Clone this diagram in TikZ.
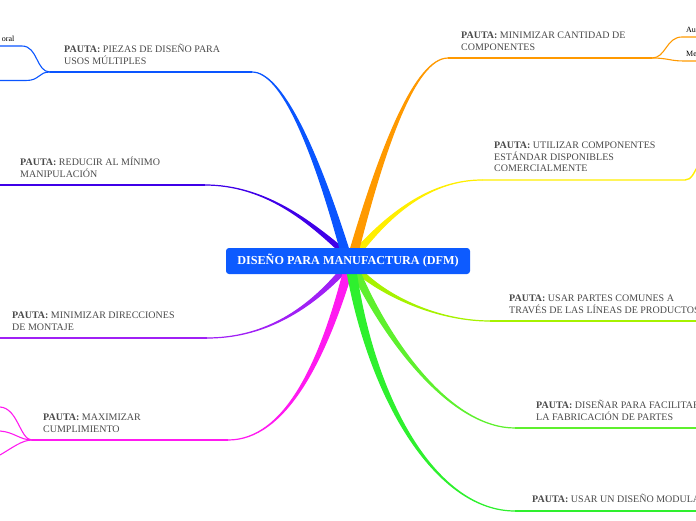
\documentclass[tikz,border=0pt]{standalone}
\usepackage{fontspec}
\setmainfont{Liberation Serif}
\usetikzlibrary{calc,backgrounds}
\definecolor{cBlue}{HTML}{0A55FF}
\definecolor{cIndigo}{HTML}{3F00E8}
\definecolor{cViolet}{HTML}{A020F5}
\definecolor{cMagenta}{HTML}{FF1AF0}
\definecolor{cOrange}{HTML}{FF9900}
\definecolor{cYellow}{HTML}{FFEE00}
\definecolor{cLime}{HTML}{A6F200}
\definecolor{cGreen}{HTML}{5EF02E}
\definecolor{cBright}{HTML}{2EF02E}
\definecolor{cNode}{HTML}{0D5BFF}
\definecolor{cText}{HTML}{4A4A4A}
% tapered branch: colour, root, control near root, control near end, end, half width
\newcommand\taper[6]{%
  \filldraw[#1, line width=1.2pt, line join=round]
    ($(#2)+(-#6,0)$) .. controls ($(#3)+(-#6*0.5,0)$) and (#4) .. (#5)
    .. controls (#4) and ($(#3)+(#6*0.5,0)$) .. ($(#2)+(#6,0)$) -- cycle;}
\begin{document}
\begin{tikzpicture}[x=1pt,y=-1pt,
  lbl/.style={anchor=north west, inner sep=0pt, align=left,
    font=\fontsize{10}{11.5}\selectfont, text=cText},
  tiny/.style={inner sep=0pt, font=\fontsize{8}{9}\selectfont, text=black},
  hline/.style={line width=1.4pt},
  sub/.style={line width=1.1pt}]
\useasboundingbox (0,0) rectangle (696,520);
\node[fill=cNode, rounded corners=3pt, minimum width=244pt, minimum height=26pt,
  inner sep=0pt, text=white, font=\bfseries\fontsize{12.2}{14}\selectfont]
  (root) at (348,261) {DISEÑO PARA MANUFACTURA (DFM)};

% labels
\node[lbl] (lA) at (64,43.3) {\rule{0pt}{9pt}\textbf{PAUTA:} PIEZAS DE DISEÑO PARA\\USOS MÚLTIPLES};
\node[lbl] (lB) at (20,156.3) {\rule{0pt}{9pt}\textbf{PAUTA:} REDUCIR AL MÍNIMO\\MANIPULACIÓN};
\node[lbl] (lC) at (12,309.3) {\rule{0pt}{9pt}\textbf{PAUTA:} MINIMIZAR DIRECCIONES\\DE MONTAJE};
\node[lbl] (lD) at (43,411.3) {\rule{0pt}{9pt}\textbf{PAUTA:} MAXIMIZAR\\CUMPLIMIENTO};
\node[lbl] (lE) at (461,29.3) {\rule{0pt}{9pt}\textbf{PAUTA:} MINIMIZAR CANTIDAD DE\\COMPONENTES};
\node[lbl] (lF) at (494,139.3) {\rule{0pt}{9pt}\textbf{PAUTA:} UTILIZAR COMPONENTES\\ESTÁNDAR DISPONIBLES\\COMERCIALMENTE};
\node[lbl] (lG) at (509,292.3) {\rule{0pt}{9pt}\textbf{PAUTA:} USAR PARTES COMUNES A\\TRAVÉS DE LAS LÍNEAS DE PRODUCTOS};
\node[lbl] (lH) at (536,399.3) {\rule{0pt}{9pt}\textbf{PAUTA:} DISEÑAR PARA FACILITAR\\LA FABRICACIÓN DE PARTES};
\node[lbl] (lI) at (532,493.3) {\rule{0pt}{9pt}\textbf{PAUTA:} USAR UN DISEÑO MODULAR};
\node[tiny, anchor=base east] (sA) at (14.5,41) {oral};
\node[tiny, anchor=base west] (sE1) at (686,32) {Au};
\node[tiny, anchor=base west] (sE2) at (686,56) {Me};

\begin{pgfonlayer}{background}
% root points
\coordinate (rA) at ($(root.north)+(-4,0)$);
\coordinate (rB) at ($(root.north)+(-9,0)$);
\coordinate (rE) at ($(root.north)+(7,0)$);
\coordinate (rF) at ($(root.north)+(13,0)$);
\coordinate (rC) at ($(root.south)+(-8,0)$);
\coordinate (rD) at ($(root.south)+(-1,0)$);
\coordinate (rI) at ($(root.south)+(4,0)$);
\coordinate (rH) at ($(root.south)+(9,0)$);
\coordinate (rG) at ($(root.south)+(14,0)$);
% branch ends
\coordinate (eA) at (252,72);  \coordinate (jA) at (50,72);
\coordinate (eB) at (205,185); \coordinate (fB) at (0,185);
\coordinate (eC) at (207,338); \coordinate (fC) at (0,338);
\coordinate (eD) at (228,440); \coordinate (jD) at (32,440);
\coordinate (eE) at (448,58);  \coordinate (jE) at (652,58);
\coordinate (eF) at (482,180); \coordinate (fF) at (685,180);
\coordinate (eG) at (490,321); \coordinate (fG) at (700,321);
\coordinate (eH) at (515,428); \coordinate (fH) at (700,428);
\coordinate (eI) at (515,511); \coordinate (fI) at (700,511);

\taper{cIndigo}{rB}{305,218}{262,185}{eB}{3.5}
\taper{cBlue}{rA}{315,150}{282,72}{eA}{4.2}
\taper{cYellow}{rF}{392,212}{432,180}{eF}{4}
\taper{cOrange}{rE}{382,150}{415,58}{eE}{4.2}
\taper{cViolet}{rC}{305,312}{262,338}{eC}{3.5}
\taper{cLime}{rG}{392,300}{442,321}{eG}{4}
\taper{cGreen}{rH}{390,345}{452,428}{eH}{4}
\taper{cMagenta}{rD}{322,362}{285,440}{eD}{4.2}
\taper{cBright}{rI}{374,405}{438,511}{eI}{4.5}

% underlines
\draw[cBlue, hline] (eA) -- (jA);
\draw[cBlue, sub] (jA) .. controls (36,72) and (38,46) .. (22,46) -- (0,46);
\draw[cBlue, sub] (jA) .. controls (38,72) and (40,80.5) .. (26,80.5) -- (0,80.5);
\draw[cIndigo, hline] (eB) -- (fB);
\draw[cViolet, hline] (eC) -- (fC);
\draw[cMagenta, hline] (eD) -- (jD);
\draw[cMagenta, sub] (jD) .. controls (20,440) and (18,408) .. (0,407);
\draw[cMagenta, sub] (jD) .. controls (20,440) and (14,432) .. (0,431);
\draw[cMagenta, sub] (jD) .. controls (22,440) and (12,448) .. (0,455);
\draw[cOrange, hline] (eE) -- (jE);
\draw[cOrange, sub] (jE) .. controls (666,58) and (666,37) .. (682,37) -- (700,37);
\draw[cOrange, sub] (jE) .. controls (668,58) and (670,61) .. (684,61) -- (700,61);
\draw[cYellow, hline] (eF) -- (fF) .. controls (692,180) and (694,172) .. (699,164);
\draw[cLime, hline] (eG) -- (fG);
\draw[cGreen, hline] (eH) -- (fH);
\draw[cBright, hline] (eI) -- (fI);
\end{pgfonlayer}
\end{tikzpicture}
\end{document}
